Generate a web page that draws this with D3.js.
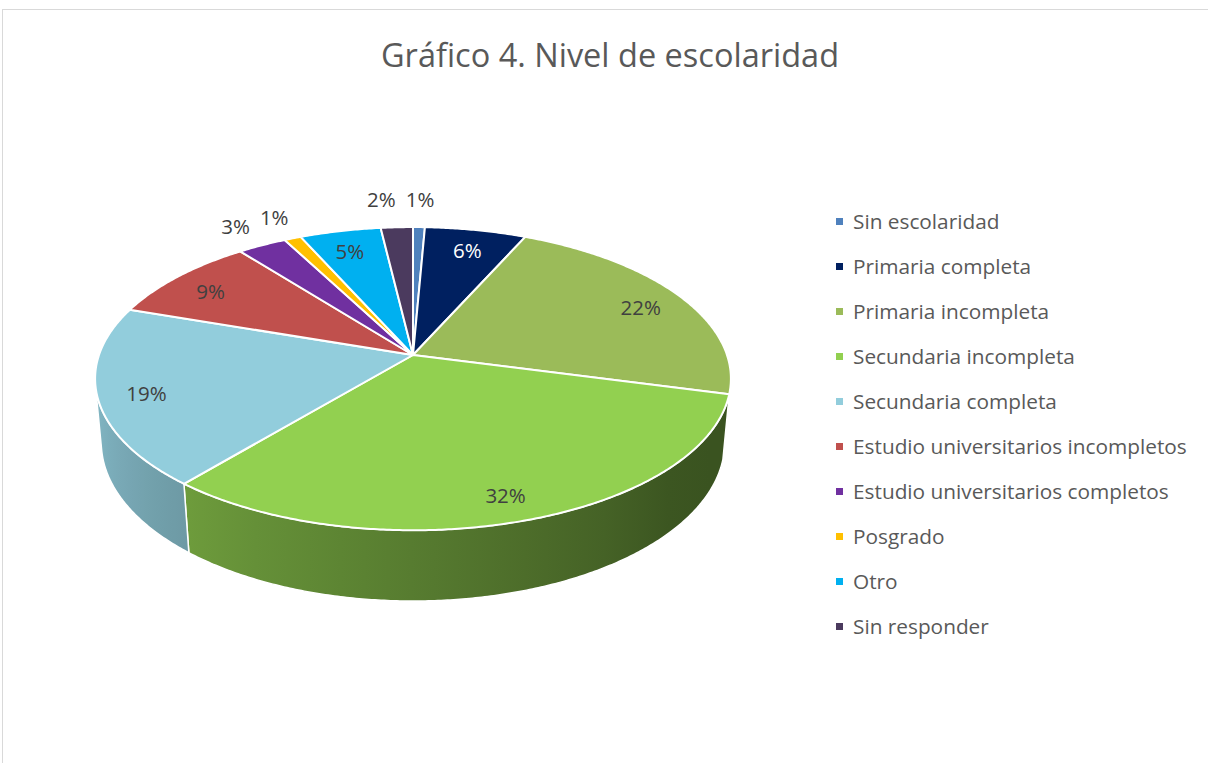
<!DOCTYPE html>
<html>
<head>
<meta charset="utf-8">
<script src="https://cdn.jsdelivr.net/npm/d3@7"></script>
<style>
  body { margin: 0; background: #fff; }
  svg { display: block; }
</style>
</head>
<body>
<div id="chart"></div>
<script>
// categories, values (percent) and slice colours
var categories = [
  'Sin escolaridad',
  'Primaria completa',
  'Primaria incompleta',
  'Secundaria incompleta',
  'Secundaria completa',
  'Estudio universitarios incompletos',
  'Estudio universitarios completos',
  'Posgrado',
  'Otro',
  'Sin responder'
];
var values = [0.7, 6.0, 22.4, 32.0, 19.1, 9.2, 2.9, 1.0, 4.8, 1.9];
var colors = ['#4f81bd', '#002060', '#9bbb59', '#92d050', '#92cddc',
  '#c0504d', '#7030a0', '#ffc000', '#00b0f0', '#4b3a5e'];

var title = 'Gráfico 4. Nivel de escolaridad';

var W = 1208, H = 763;
var text_color = '#595959',
  label_color = '#404040',
  font = '"Open Sans", "Noto Sans", sans-serif';

var svg = d3.select('#chart').append('svg')
  .attr('width', W)
  .attr('height', H);

// chart area border (only top and left edges fall inside the picture)
svg.append('rect')
  .attr('x', 2.5).attr('y', 9.5)
  .attr('width', W + 20).attr('height', H + 20)
  .attr('fill', '#fff')
  .attr('stroke', '#d9d9d9');

svg.append('text')
  .attr('x', 610).attr('y', 67)
  .attr('text-anchor', 'middle')
  .style('font-family', font)
  .style('font-size', '32.5px')
  .attr('fill', text_color)
  .text(title);

// --- 3d pie projection -------------------------------------------------
var cx = 413, cy = 355, K = 314,
  sinA = 0.471, cosA = 0.882, F = 5.65, depth = 0.233;

// phi: clockwise from 12 o'clock, r: radius (1 = rim), y: height (0 top, -depth bottom)
function proj(r, phi, y) {
  var x = r * Math.sin(phi), z = -r * Math.cos(phi);
  var v = y * cosA - z * sinA;
  var d = y * sinA + z * cosA;
  var s = F / (F - d);
  return [cx + K * x * s, cy - K * v * s];
}

var pie = d3.pie().sort(null).value(function(d) { return d; });
var arcs = pie(values);

var step = Math.PI / 360;
function arcPoints(a0, a1, r, y) {
  var pts = [];
  var n = Math.max(2, Math.ceil((a1 - a0) / step));
  for (var i = 0; i <= n; i++) pts.push(proj(r, a0 + (a1 - a0) * i / n, y));
  return pts;
}

var line = d3.line();
var defs = svg.append('defs');

// visible part of the rim
var visMin = Math.PI - Math.acos(1 / (F * cosA)),
  visMax = Math.PI + Math.acos(1 / (F * cosA));

function shade(phi) {
  var deg = phi * 180 / Math.PI;
  return Math.min(0.95, 0.4 + Math.max(0, deg - 130) * 0.0039);
}

var sides = svg.append('g');
arcs.forEach(function(a, i) {
  var a0 = Math.max(a.startAngle, visMin), a1 = Math.min(a.endAngle, visMax);
  if (a1 <= a0) return;
  var top = arcPoints(a0, a1, 1, 0);
  var bot = arcPoints(a0, a1, 1, -depth).reverse();

  var xs = top.map(function(p) { return p[0]; });
  var xmin = d3.min(xs), xmax = d3.max(xs);
  var grad = defs.append('linearGradient')
    .attr('id', 'side' + i)
    .attr('gradientUnits', 'userSpaceOnUse')
    .attr('x1', xmin).attr('x2', xmax).attr('y1', 0).attr('y2', 0);
  var toOff = d3.scaleLinear().domain([xmin, xmax]).range([0, 1]);
  var samples = d3.range(0, 9).map(function(k) { return a0 + (a1 - a0) * k / 8; });
  samples.sort(function(p, q) { return proj(1, p, 0)[0] - proj(1, q, 0)[0]; })
    .forEach(function(phi) {
      grad.append('stop')
        .attr('offset', xmax > xmin ? toOff(proj(1, phi, 0)[0]) : 0)
        .attr('stop-color', d3.interpolateRgb('#000', colors[i])(shade(phi)));
    });

  sides.append('path')
    .attr('d', line(top.concat(bot)) + 'Z')
    .attr('fill', 'url(#side' + i + ')')
    .attr('stroke', '#fff')
    .attr('stroke-width', 1.5)
    .attr('stroke-linejoin', 'round');
});

var tops = svg.append('g');
arcs.forEach(function(a, i) {
  var pts = [proj(0, 0, 0)].concat(arcPoints(a.startAngle, a.endAngle, 1, 0));
  tops.append('path')
    .attr('d', line(pts) + 'Z')
    .attr('fill', colors[i])
    .attr('stroke', '#fff')
    .attr('stroke-width', 2)
    .attr('stroke-linejoin', 'round');
});

// --- data labels -------------------------------------------------------
var labelSize = 20.5;
var labelText = svg.append('g').selectAll('text')
  .data(arcs)
  .enter().append('text')
  .attr('dy', '0.35em')
  .attr('text-anchor', 'middle')
  .style('font-family', font)
  .style('font-size', labelSize + 'px')
  .text(function(d, i) { return Math.round(values[i]) + '%'; });

var labels = [];
labelText.each(function(a, i) {
  var mid = (a.startAngle + a.endAngle) / 2;
  var lbl = { i: i, node: this, inside: values[i] >= 4, w: this.getComputedTextLength() };
  var h = labelSize * 1.2;
  if (lbl.inside) {
    var p = proj(0.85, mid, 0);
    lbl.x = p[0]; lbl.y = p[1] + 4;
  } else {
    var e = proj(1.05, mid, 0);
    var dx = e[0] - cx, dy = e[1] - cy, len = Math.sqrt(dx * dx + dy * dy);
    lbl.x = e[0] + dx / len * (lbl.w / 2 + 4);
    lbl.y = e[1] + dy / len * (h / 2 + 10);
  }
  labels.push(lbl);
});

// outside labels sit on the upper left: push crowded ones to the left
var outside = labels.filter(function(l) { return !l.inside; })
  .sort(function(a, b) { return b.x - a.x; });
for (var j = 1; j < outside.length; j++) {
  var R = outside[j - 1], L = outside[j];
  var need = (L.w + R.w) / 2 + 10;
  if (R.x - L.x < need && Math.abs(R.y - L.y) < labelSize) L.x = R.x - need;
}

labels.forEach(function(l) {
  d3.select(l.node)
    .attr('x', l.x)
    .attr('y', l.y)
    .attr('fill', l.inside && d3.hsl(colors[l.i]).l < 0.3 ? '#fff' : label_color);
});

// --- legend ------------------------------------------------------------
var ly = d3.scalePoint().domain(categories).range([222, 627]);
var legend = svg.append('g').selectAll('g')
  .data(categories)
  .enter().append('g')
  .attr('transform', function(d) { return 'translate(836,' + ly(d) + ')'; });

legend.append('rect')
  .attr('x', 0).attr('y', -4)
  .attr('width', 7).attr('height', 7)
  .attr('fill', function(d, i) { return colors[i]; });

legend.append('text')
  .attr('x', 17).attr('dy', '0.35em')
  .style('font-family', font)
  .style('font-size', '20.8px')
  .attr('fill', text_color)
  .text(function(d) { return d; });
</script>
</body>
</html>
